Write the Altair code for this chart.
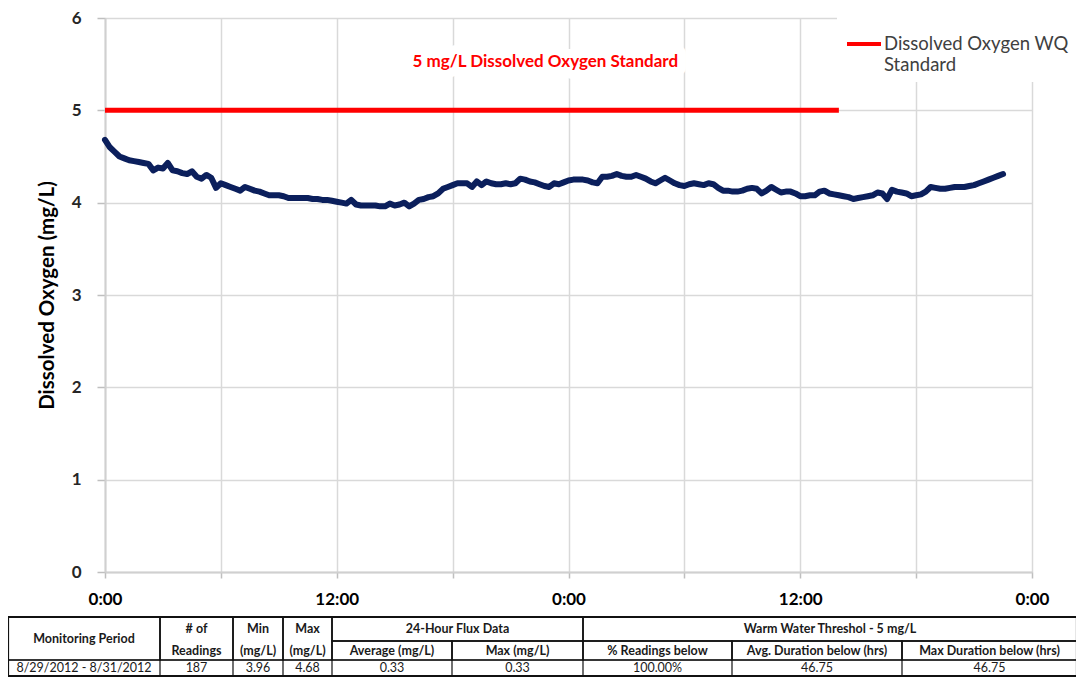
import altair as alt
import pandas as pd

# ---------------- data ----------------
READING_INTERVAL_H = 0.25  # one reading every 15 minutes
do_values = [
    4.68, 4.60, 4.55, 4.50,  4.48, 4.46, 4.45, 4.44,  4.43, 4.42, 4.35, 4.38,
    4.37, 4.43, 4.35, 4.34,  4.32, 4.31, 4.34, 4.28,  4.26, 4.30, 4.27, 4.16,
    4.21, 4.19, 4.17, 4.15,  4.13, 4.17, 4.15, 4.13,  4.12, 4.10, 4.08, 4.08,
    4.08, 4.07, 4.05, 4.05,  4.05, 4.05, 4.05, 4.04,  4.04, 4.03, 4.03, 4.02,
    4.01, 4.00, 3.99, 4.03,  3.98, 3.97, 3.97, 3.97,  3.97, 3.96, 3.96, 3.99,
    3.97, 3.98, 4.00, 3.96,  3.99, 4.03, 4.04, 4.06,  4.07, 4.10, 4.15, 4.17,
    4.19, 4.21, 4.21, 4.21,  4.17, 4.23, 4.19, 4.23,  4.21, 4.20, 4.20, 4.21,
    4.20, 4.21, 4.26, 4.25,  4.23, 4.22, 4.20, 4.18,  4.17, 4.21, 4.20, 4.22,
    4.24, 4.25, 4.25, 4.25,  4.24, 4.22, 4.21, 4.28,  4.28, 4.29, 4.31, 4.29,
    4.28, 4.28, 4.30, 4.28,  4.26, 4.23, 4.21, 4.24,  4.27, 4.24, 4.21, 4.19,
    4.18, 4.20, 4.21, 4.20,  4.19, 4.21, 4.20, 4.16,  4.13, 4.13, 4.12, 4.12,
    4.13, 4.15, 4.16, 4.15,  4.10, 4.13, 4.17, 4.14,  4.11, 4.12, 4.12, 4.10,
    4.07, 4.07, 4.08, 4.08,  4.12, 4.13, 4.10, 4.09,  4.08, 4.07, 4.06, 4.04,
    4.05, 4.06, 4.07, 4.08,  4.11, 4.10, 4.04, 4.14,  4.12, 4.11, 4.10, 4.07,
    4.08, 4.09, 4.12, 4.17,  4.16, 4.15, 4.15, 4.16,  4.17, 4.17, 4.17, 4.18,
    4.19, 4.21, 4.23, 4.25,  4.27, 4.29, 4.31,
]
hours = [i * READING_INTERVAL_H for i in range(len(do_values))]

standard_name = "Dissolved Oxygen WQ Standard"
standard_value = [5.0, 5.0]
standard_hours = [0.0, 38.0]

annotation_text = ["5 mg/L Dissolved Oxygen Standard"]
annotation_hour = [22.8]
annotation_do = [5.52]

x_tick_hours = [0, 6, 12, 18, 24, 30, 36, 42, 48]
y_ticks = [0, 1, 2, 3, 4, 5, 6]

# summary table content
header_top = ["Monitoring Period", "# of", "Min", "Max", "24-Hour Flux Data",
              "Warm Water Threshol - 5 mg/L"]
header_sub = ["Readings", "(mg/L)", "(mg/L)", "Average (mg/L)", "Max  (mg/L)",
              "% Readings below", "Avg. Duration below (hrs)", "Max Duration below (hrs)"]
row_values = ["8/29/2012 - 8/31/2012", "187", "3.96", "4.68", "0.33", "0.33",
              "100.00%", "46.75", "46.75"]

# ---------------- table layout (pixels relative to plot origin) ----------------
col_edges = [-97, 55, 128, 178, 227, 347, 478, 627, 797, 972]
row_edges = [599, 623, 642, 658]

def cell(c0, c1, r0, r1):
    return dict(x0=col_edges[c0], x1=col_edges[c1], y0=row_edges[r0], y1=row_edges[r1],
                xc=(col_edges[c0] + col_edges[c1]) / 2, yc=(row_edges[r0] + row_edges[r1]) / 2)

header_spans = [(0, 1, 0, 2), (1, 2, 0, 2), (2, 3, 0, 2), (3, 4, 0, 2), (4, 6, 0, 1),
                (4, 5, 1, 2), (5, 6, 1, 2), (6, 9, 0, 1), (6, 7, 1, 2), (7, 8, 1, 2), (8, 9, 1, 2)]
header_rects = pd.DataFrame([cell(*s) for s in header_spans])
data_rects = pd.DataFrame([cell(i, i + 1, 2, 3) for i in range(9)])
outer_rect = pd.DataFrame([cell(0, 9, 0, 3)])

top_spans = [(0, 1, 0, 2), (1, 2, 0, 1), (2, 3, 0, 1), (3, 4, 0, 1), (4, 6, 0, 1), (6, 9, 0, 1)]
sub_spans = [(1, 2, 1, 2), (2, 3, 1, 2), (3, 4, 1, 2), (4, 5, 1, 2), (5, 6, 1, 2),
             (6, 7, 1, 2), (7, 8, 1, 2), (8, 9, 1, 2)]
header_text = pd.DataFrame(
    [dict(cell(*s), label=t) for s, t in zip(top_spans, header_top)] +
    [dict(cell(*s), label=t) for s, t in zip(sub_spans, header_sub)])
value_text = pd.DataFrame([dict(cell(i, i + 1, 2, 3), label=v) for i, v in enumerate(row_values)])

# ---------------- main plot ----------------
FONT = "Lato"
W, H = 927, 554

x_enc = alt.X("hour:Q", scale=alt.Scale(domain=[0, 48], nice=False, zero=False),
              axis=alt.Axis(values=x_tick_hours, title=None, grid=True,
                            labelExpr="datum.value % 24 == 0 ? '0:00' : (datum.value % 12 == 0 ? '12:00' : '')",
                            labelFlush=False, labelFont=FONT, labelFontSize=17,
                            labelFontWeight="bold", labelColor="#000000", labelPadding=13,
                            tickSize=6, tickColor="#bfbfbf", tickWidth=1.5,
                            domainColor="#d0d0d0", domainWidth=2,
                            gridColor="#d9d9d9", gridWidth=1.5))
y_enc = alt.Y("do:Q", scale=alt.Scale(domain=[0, 6], nice=False),
              axis=alt.Axis(values=y_ticks, title="Dissolved Oxygen (mg/L)", grid=True,
                            labelFlush=False, labelFont=FONT, labelFontSize=17,
                            labelFontWeight="bold", labelColor="#262626", labelPadding=16,
                            tickSize=8, tickColor="#bfbfbf", tickWidth=1.5,
                            domainColor="#d0d0d0", domainWidth=2,
                            gridColor="#d9d9d9", gridWidth=1.5,
                            titleFont=FONT, titleFontSize=20.5, titleFontWeight="bold",
                            titleColor="#000000", titlePadding=14))

do_df = pd.DataFrame({"hour": hours, "do": do_values})
std_df = pd.DataFrame({"hour": standard_hours, "do": standard_value,
                       "series": [standard_name] * len(standard_hours)})
anno_df = pd.DataFrame({"hour": annotation_hour, "do": annotation_do, "text": annotation_text})

do_line = alt.Chart(do_df).mark_line(color="#0b1f5c", strokeWidth=6, strokeJoin="round",
                                     strokeCap="round").encode(x=x_enc, y=y_enc)

std_line = alt.Chart(std_df).mark_line(strokeWidth=5).encode(
    x=x_enc, y=y_enc,
    color=alt.Color("series:N",
                    scale=alt.Scale(domain=[standard_name], range=["#ff0000"]),
                    legend=alt.Legend(title=None, orient="none", legendX=732, legendY=-1,
                                      fillColor="white", padding=8,
                                      symbolType="M-1,0H1", symbolSize=1156, symbolStrokeWidth=4,
                                      labelFont=FONT, labelFontSize=18.5, labelColor="#404040",
                                      labelLimit=400, labelOffset=1, labelBaseline="middle",
                                      labelExpr="['Dissolved Oxygen WQ', 'Standard']")))

anno_bg = alt.Chart(anno_df).mark_text(font=FONT, fontSize=17, fontWeight="bold",
                                       fill="white", stroke="white", strokeWidth=18,
                                       strokeJoin="round").encode(x=x_enc, y=y_enc, text="text:N")
anno = alt.Chart(anno_df).mark_text(font=FONT, fontSize=17, fontWeight="bold",
                                    color="#ff0000").encode(x=x_enc, y=y_enc, text="text:N")

main = alt.layer(do_line, std_line, anno_bg, anno)

# ---------------- table ----------------
tx = alt.Scale(domain=[0, W], nice=False, zero=False)
ty = alt.Scale(domain=[0, H], nice=False, zero=False, reverse=True)

def rects(df, stroke, width):
    return alt.Chart(df).mark_rect(fill="white", fillOpacity=0, stroke=stroke, strokeWidth=width).encode(
        x=alt.X("x0:Q", scale=tx, axis=None), x2="x1:Q",
        y=alt.Y("y0:Q", scale=ty, axis=None), y2="y1:Q")

def texts(df, weight, color):
    return alt.Chart(df).mark_text(font=FONT, fontSize=12.5, fontWeight=weight, color=color,
                                   align="center", baseline="middle").encode(
        x=alt.X("xc:Q", scale=tx, axis=None), y=alt.Y("yc:Q", scale=ty, axis=None), text="label:N")

table = alt.layer(
    rects(data_rects, "#555555", 1.2),
    rects(header_rects, "#111111", 1.5),
    rects(outer_rect, "#111111", 2.2),
    texts(header_text, "bold", "#1a1a1a"),
    texts(value_text, "normal", "#1a1a1a"),
)

chart = alt.layer(main, table).resolve_scale(
    x="independent", y="independent"
).properties(
    width=W, height=H,
    autosize=alt.AutoSizeParams(type="none"),
    padding={"left": 97, "top": 10, "right": 44, "bottom": 105},
    background="white",
).configure_view(stroke=None).configure(font=FONT)

chart.save("out.html", embed_options={"renderer": "svg", "actions": False})
